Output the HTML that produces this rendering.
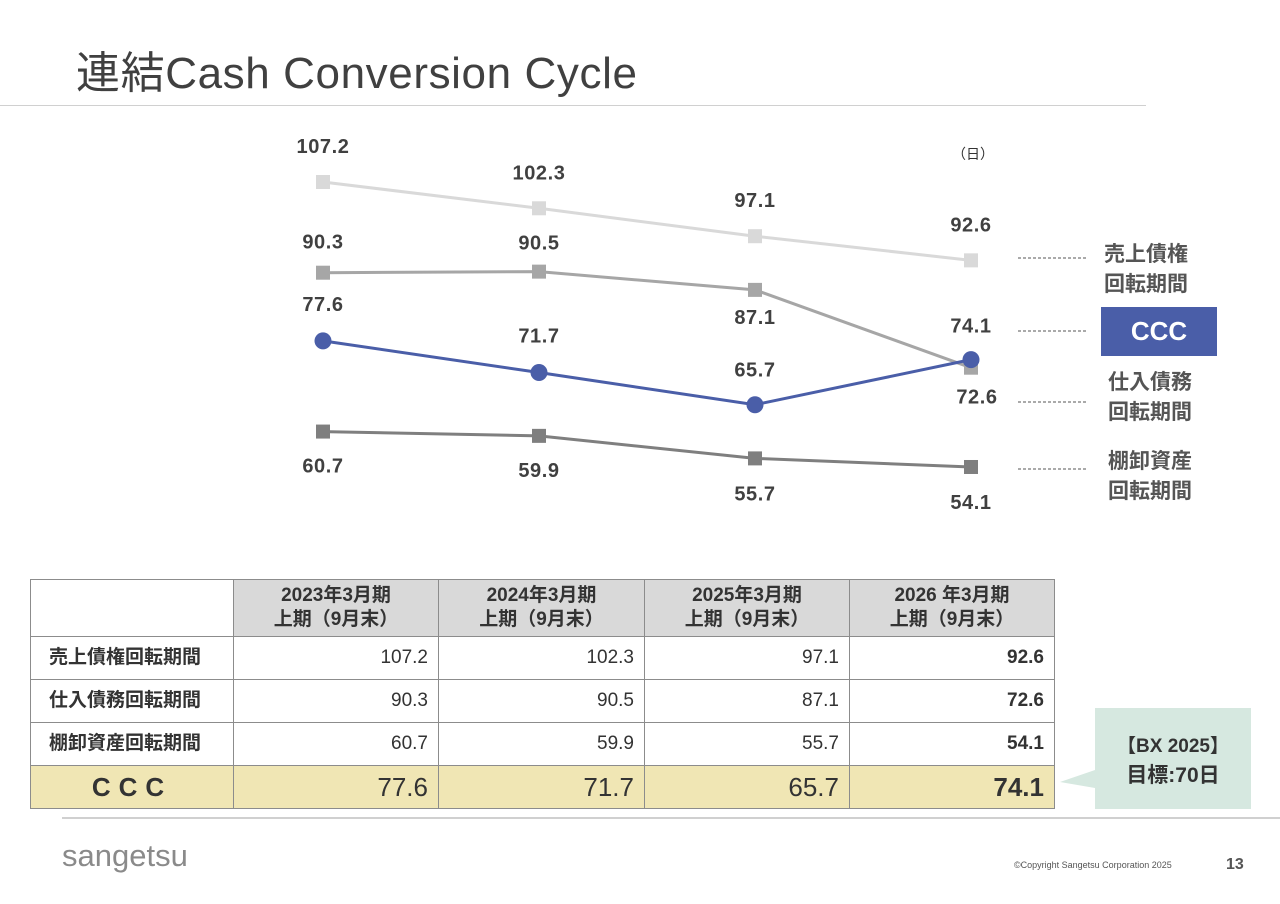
<!DOCTYPE html>
<html><head><meta charset="utf-8">
<style>
body{margin:0;width:1280px;height:904px;background:#fff;font-family:"Liberation Sans","Noto Sans CJK JP",sans-serif;position:relative;overflow:hidden;color:#333}
.abs{position:absolute}
table{border-collapse:collapse;position:absolute;left:30px;top:579px;table-layout:fixed}
td{border:1px solid #8c8c8c;padding:0 10px;font-size:19px;color:#333;vertical-align:middle;line-height:22px}
</style></head><body>
<div class="abs" style="left:76px;top:37px;font-size:44px;letter-spacing:0.6px;color:#404040;">連結Cash Conversion Cycle</div>
<div class="abs" style="left:0;top:105px;width:1146px;height:1px;background:#d0d0d0"></div>
<div class="abs" style="left:952px;top:144px;font-size:14px;color:#333">（日）</div>
<svg class="abs" style="left:0;top:0" width="1280" height="560" id="chart"></svg>
<div class="abs" style="left:1101px;top:307px;width:116px;height:49px;background:#4a5ea8;color:#fff;font-weight:bold;font-size:26px;text-align:center;line-height:49px">CCC</div>
<div class="abs" style="left:1104px;top:240px;font-weight:bold;font-size:21px;line-height:30px;color:#555">売上債権<br>回転期間</div>
<div class="abs" style="left:1108px;top:368px;font-weight:bold;font-size:21px;line-height:30px;color:#555">仕入債務<br>回転期間</div>
<div class="abs" style="left:1108px;top:447px;font-weight:bold;font-size:21px;line-height:30px;color:#555">棚卸資産<br>回転期間</div>

<table>
<colgroup><col style="width:203px"><col style="width:205px"><col style="width:206px"><col style="width:205px"><col style="width:205px"></colgroup>
<tr style="height:57px;background:#d9d9d9;font-weight:bold"><td style="background:#fff"></td>
<td style="text-align:center;font-weight:bold;line-height:24px">2023年3月期<br>上期（9月末）</td>
<td style="text-align:center;font-weight:bold;line-height:24px">2024年3月期<br>上期（9月末）</td>
<td style="text-align:center;font-weight:bold;line-height:24px">2025年3月期<br>上期（9月末）</td>
<td style="text-align:center;font-weight:bold;line-height:24px">2026 年3月期<br>上期（9月末）</td></tr>
<tr style="height:43px"><td style="font-weight:bold;padding-left:18px">売上債権回転期間</td><td align="right">107.2</td><td align="right">102.3</td><td align="right">97.1</td><td align="right"><b>92.6</b></td></tr>
<tr style="height:43px"><td style="font-weight:bold;padding-left:18px">仕入債務回転期間</td><td align="right">90.3</td><td align="right">90.5</td><td align="right">87.1</td><td align="right"><b>72.6</b></td></tr>
<tr style="height:43px"><td style="font-weight:bold;padding-left:18px">棚卸資産回転期間</td><td align="right">60.7</td><td align="right">59.9</td><td align="right">55.7</td><td align="right"><b>54.1</b></td></tr>
<tr style="height:43px;background:#f0e6b4"><td style="font-weight:bold;font-size:26px;line-height:30px;text-align:center;letter-spacing:8px">CCC</td><td align="right" style="font-size:26px;line-height:30px">77.6</td><td align="right" style="font-size:26px;line-height:30px">71.7</td><td align="right" style="font-size:26px;line-height:30px">65.7</td><td align="right" style="font-size:26px;line-height:30px"><b>74.1</b></td></tr>
</table>

<svg class="abs" style="left:1060px;top:708px" width="195" height="102">
<polygon points="35,0 191,0 191,101 35,101 35,80 0,74 35,62" fill="#d6e8e0"/>
<text x="113" y="44" text-anchor="middle" font-size="19" font-weight="bold" fill="#333" font-family="Liberation Sans,Noto Sans CJK JP,sans-serif">【BX 2025】</text>
<text x="113" y="74" text-anchor="middle" font-size="21" font-weight="bold" fill="#333" font-family="Liberation Sans,Noto Sans CJK JP,sans-serif">目標:70日</text>
</svg>
<div class="abs" style="left:62px;top:817px;width:1218px;height:2px;background:#d0d0d0"></div>
<div class="abs" style="left:62px;top:838px;font-size:31px;color:#8a8a8a">sangetsu</div>
<div class="abs" style="left:1014px;top:860px;font-size:9px;color:#555">©Copyright Sangetsu Corporation 2025</div>
<div class="abs" style="left:1226px;top:856px;font-size:16px;font-weight:bold;color:#555">13</div>

<script>
const categories=["2023/9","2024/9","2025/9","2026/9"];
const receivables=[107.2,102.3,97.1,92.6];
const payables=[90.3,90.5,87.1,72.6];
const inventory=[60.7,59.9,55.7,54.1];
const ccc=[77.6,71.7,65.7,74.1];
const svg=document.getElementById('chart');
const NS='http://www.w3.org/2000/svg';
function xs(i){return 323+i*216;}
function ys(v){return 182+(107.2-v)*5.367;}
function mk(tag,attrs){const e=document.createElementNS(NS,tag);for(const k in attrs)e.setAttribute(k,attrs[k]);svg.appendChild(e);return e;}
const series=[
 {name:'receivables',data:receivables,color:'#d9d9d9',shape:'sq',off:[-36,-36,-36,-36],dx:[0,0,0,0]},
 {name:'payables',data:payables,color:'#a6a6a6',shape:'sq',off:[-31,-29,27,29],dx:[0,0,0,6]},
 {name:'inventory',data:inventory,color:'#7f7f7f',shape:'sq',off:[34,34,35,35],dx:[0,0,0,0]},
 {name:'ccc',data:ccc,color:'#4a5ea8',shape:'c',off:[-37,-37,-35,-34],dx:[0,0,0,0]}
];
series.forEach(s=>{
 const pts=s.data.map((v,i)=>xs(i)+','+ys(v)).join(' ');
 const l=mk('polyline',{points:pts,fill:'none',stroke:s.color,'stroke-width':3});
 
 
 s.data.forEach((v,i)=>{
  let m;
  if(s.shape==='sq') m=mk('rect',{x:xs(i)-7,y:ys(v)-7,width:14,height:14,fill:s.color});
  else m=mk('circle',{cx:xs(i),cy:ys(v),r:8.5,fill:s.color});
  
  
  const t=mk('text',{x:xs(i)+s.dx[i],y:ys(v)+s.off[i]+7,'text-anchor':'middle','font-size':20,'font-weight':'bold','letter-spacing':'0.6',fill:'#404040','font-family':'Liberation Sans,sans-serif'});
  t.textContent=v.toFixed(1);
  
  
 });
});
[258,331,402,469].forEach(y=>{
 const d=mk('line',{x1:1018,x2:1086,y1:y,y2:y,stroke:'#555','stroke-width':1,'stroke-dasharray':'3,2'});
 
 
});
</script>
</body></html>
